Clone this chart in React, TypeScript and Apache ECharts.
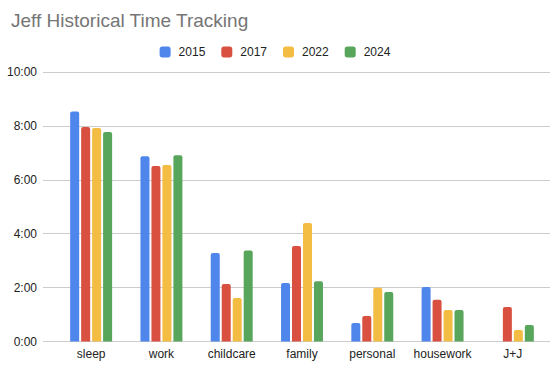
import React, { useEffect, useRef } from "react";
import * as echarts from "echarts";

const categories = ["sleep", "work", "childcare", "family", "personal", "housework", "J+J"];
const years = ["2015", "2017", "2022", "2024"];
const v2015 = [8.53, 6.87, 3.28, 2.17, 0.69, 2.02, null];
const v2017 = [7.96, 6.51, 2.13, 3.54, 0.95, 1.55, 1.28];
const v2022 = [7.92, 6.55, 1.61, 4.4, 1.99, 1.17, 0.43];
const v2024 = [7.77, 6.91, 3.38, 2.24, 1.84, 1.17, 0.61];
const seriesValues = [v2015, v2017, v2022, v2024];
const colors = ["#4f86ec", "#d95040", "#f2bd42", "#58a55c"];
const yTicks = [0, 2, 4, 6, 8, 10];

const FONT = 'Arial, "Liberation Sans", sans-serif';

export default function App() {
  const ref = useRef<HTMLDivElement>(null);
  useEffect(() => {
    if (!ref.current) return;
    const chart = echarts.init(ref.current, null, { renderer: "svg" });
    const yMin = yTicks[0];
    const yMax = yTicks[yTicks.length - 1];
    const yInterval = yTicks[1] - yTicks[0];
    chart.setOption({
      animation: false,
      backgroundColor: "#ffffff",
      title: {
        text: "Jeff Historical Time Tracking",
        left: 6,
        top: 6,
        textStyle: { fontFamily: FONT, fontSize: 19, fontWeight: "normal", color: "#757575" },
      },
      legend: {
        data: years,
        left: "center",
        top: 41,
        itemWidth: 11,
        itemHeight: 11,
        itemGap: 16,
        icon: "roundRect",
        textStyle: { fontFamily: FONT, fontSize: 12, color: "#222222", padding: [0, 0, 0, 3] },
      },
      grid: [
        { left: 43, right: 0, top: 72, bottom: 27.5 },
        { left: 56, right: 2, top: 72, bottom: 27.5 },
      ],
      xAxis: [
        { type: "value", gridIndex: 0, show: false, min: 0, max: 1 },
        {
          type: "category",
          gridIndex: 1,
          data: categories,
          axisLine: { show: false },
          axisTick: { show: false },
          axisLabel: { interval: 0, fontFamily: FONT, fontSize: 12, color: "#222222", margin: 6 },
        },
      ],
      yAxis: [
        {
          type: "value",
          gridIndex: 0,
          min: yMin,
          max: yMax,
          interval: yInterval,
          axisLine: { show: false },
          axisTick: { show: false },
          splitLine: { lineStyle: { color: "#cccccc", width: 1 } },
          axisLabel: {
            fontFamily: FONT,
            fontSize: 12,
            color: "#222222",
            margin: 6,
            formatter: (v: number) => `${v}:00`,
          },
        },
        { type: "value", gridIndex: 1, min: yMin, max: yMax, interval: yInterval, show: false },
      ],
      series: years.map((y, i) => ({
        name: y,
        type: "bar",
        xAxisIndex: 1,
        yAxisIndex: 1,
        data: seriesValues[i],
        barWidth: 9,
        barGap: "22%",
        itemStyle: { color: colors[i], borderRadius: [2, 2, 0, 0] },
      })),
    });
    return () => chart.dispose();
  }, []);
  return <div ref={ref} style={{ width: 550, height: 369, position: "absolute", left: 0, top: 0 }} />;
}
